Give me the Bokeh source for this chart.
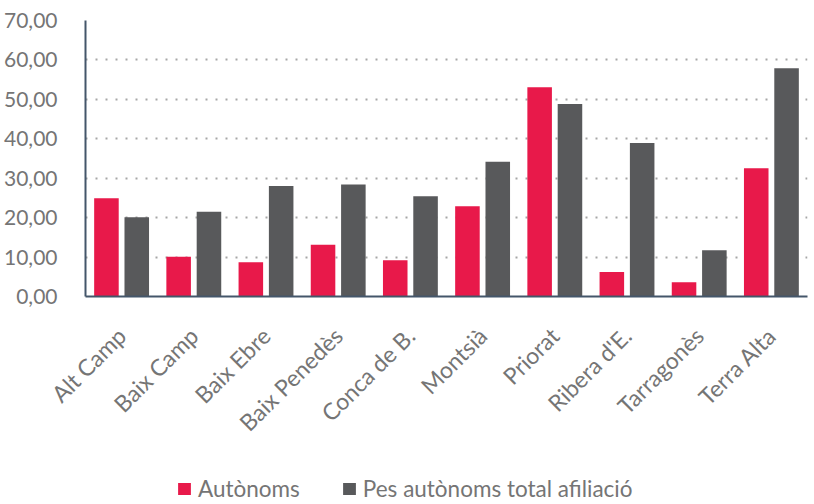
import math
from bokeh.plotting import figure
from bokeh.layouts import column
from bokeh.models import (ColumnDataSource, FactorRange, FixedTicker, Legend, LegendItem, Range1d)
from bokeh.transform import dodge
from bokeh.embed import file_html
from bokeh.resources import INLINE

categories = ["Alt Camp", "Baix Camp", "Baix Ebre", "Baix Penedès", "Conca de B.",
              "Montsià", "Priorat", "Ribera d'E.", "Tarragonès", "Terra Alta"]
autonoms = [24.9, 10.1, 8.7, 13.1, 9.2, 22.9, 53.1, 6.2, 3.6, 32.5]
pes_afiliacio = [20.1, 21.5, 28.0, 28.4, 25.4, 34.2, 48.8, 38.9, 11.7, 57.9]
y_ticks = [0, 10, 20, 30, 40, 50, 60, 70]
y_tick_labels = ["0,00", "10,00", "20,00", "30,00", "40,00", "50,00", "60,00", "70,00"]
series_names = ["Autònoms", "Pes autònoms total afiliació"]

RED = "#E8194A"
GRAY = "#58595B"
AXIS = "#44566A"
LABEL = "#757575"
FONT = "Lato"

source = ColumnDataSource(dict(cat=categories, a=autonoms, p=pes_afiliacio))

p = figure(width=814, height=470, output_backend="svg", toolbar_location=None,
           x_range=FactorRange(factors=categories, range_padding=0),
           y_range=(0, 70),
           min_border_left=85, min_border_right=7, min_border_top=20,
           min_border_bottom=174)
p.outline_line_color = None

r1 = p.vbar(x=dodge("cat", -0.21, range=p.x_range), top="a", width=0.34,
            source=source, fill_color=RED, line_color=None)
r2 = p.vbar(x=dodge("cat", 0.21, range=p.x_range), top="p", width=0.34,
            source=source, fill_color=GRAY, line_color=None)

# y axis
p.yaxis.ticker = FixedTicker(ticks=y_ticks)
p.yaxis.major_label_overrides = {t: l for t, l in zip(y_ticks, y_tick_labels)}
p.yaxis.axis_line_color = AXIS
p.yaxis.axis_line_width = 2
p.yaxis.major_tick_line_color = None
p.yaxis.minor_tick_line_color = None
p.yaxis.major_label_text_font = FONT
p.yaxis.major_label_text_font_size = "21px"
p.yaxis.major_label_text_color = LABEL
p.yaxis.major_label_standoff = 22

# x axis
p.xaxis.axis_line_color = AXIS
p.xaxis.axis_line_width = 2
p.xaxis.major_tick_line_color = None
p.xaxis.minor_tick_line_color = None
p.xaxis.major_label_orientation = math.pi / 4
p.xaxis.major_label_text_font = FONT
p.xaxis.major_label_text_font_size = "23px"
p.xaxis.major_label_text_color = LABEL
p.xaxis.major_label_standoff = 29

# grid
p.xgrid.grid_line_color = None
p.ygrid.ticker = FixedTicker(ticks=y_ticks[1:])
p.ygrid.grid_line_color = "#A6A6A6"
p.ygrid.grid_line_width = 2
p.ygrid.grid_line_dash = "2 8"

# legend strip (separate figure so the legend is not clipped by the chart frame)
lg = figure(width=814, height=34, output_backend="svg", toolbar_location=None,
            x_range=Range1d(0, 1), y_range=Range1d(0, 1),
            min_border_left=0, min_border_right=0, min_border_top=0, min_border_bottom=0)
lg.axis.visible = False
lg.grid.visible = False
lg.outline_line_color = None
proxy = ColumnDataSource(dict(x=[0.5], top=[float("nan")]))
d1 = lg.vbar(x="x", top="top", width=0.1, source=proxy, fill_color=RED, line_color=None)
d2 = lg.vbar(x="x", top="top", width=0.1, source=proxy, fill_color=GRAY, line_color=None)

legend = Legend(items=[LegendItem(label=series_names[0], renderers=[d1]),
                       LegendItem(label=series_names[1], renderers=[d2])],
                orientation="horizontal", location=(91, 2),
                glyph_width=16, glyph_height=15, label_standoff=6, spacing=41,
                label_text_font=FONT, label_text_font_size="22.5px",
                label_text_color=LABEL, border_line_color=None,
                background_fill_alpha=0, padding=0, margin=0)
lg.add_layout(legend, "center")

layout = column(p, lg, spacing=0)
open("out.html", "w").write(file_html(layout, INLINE))
